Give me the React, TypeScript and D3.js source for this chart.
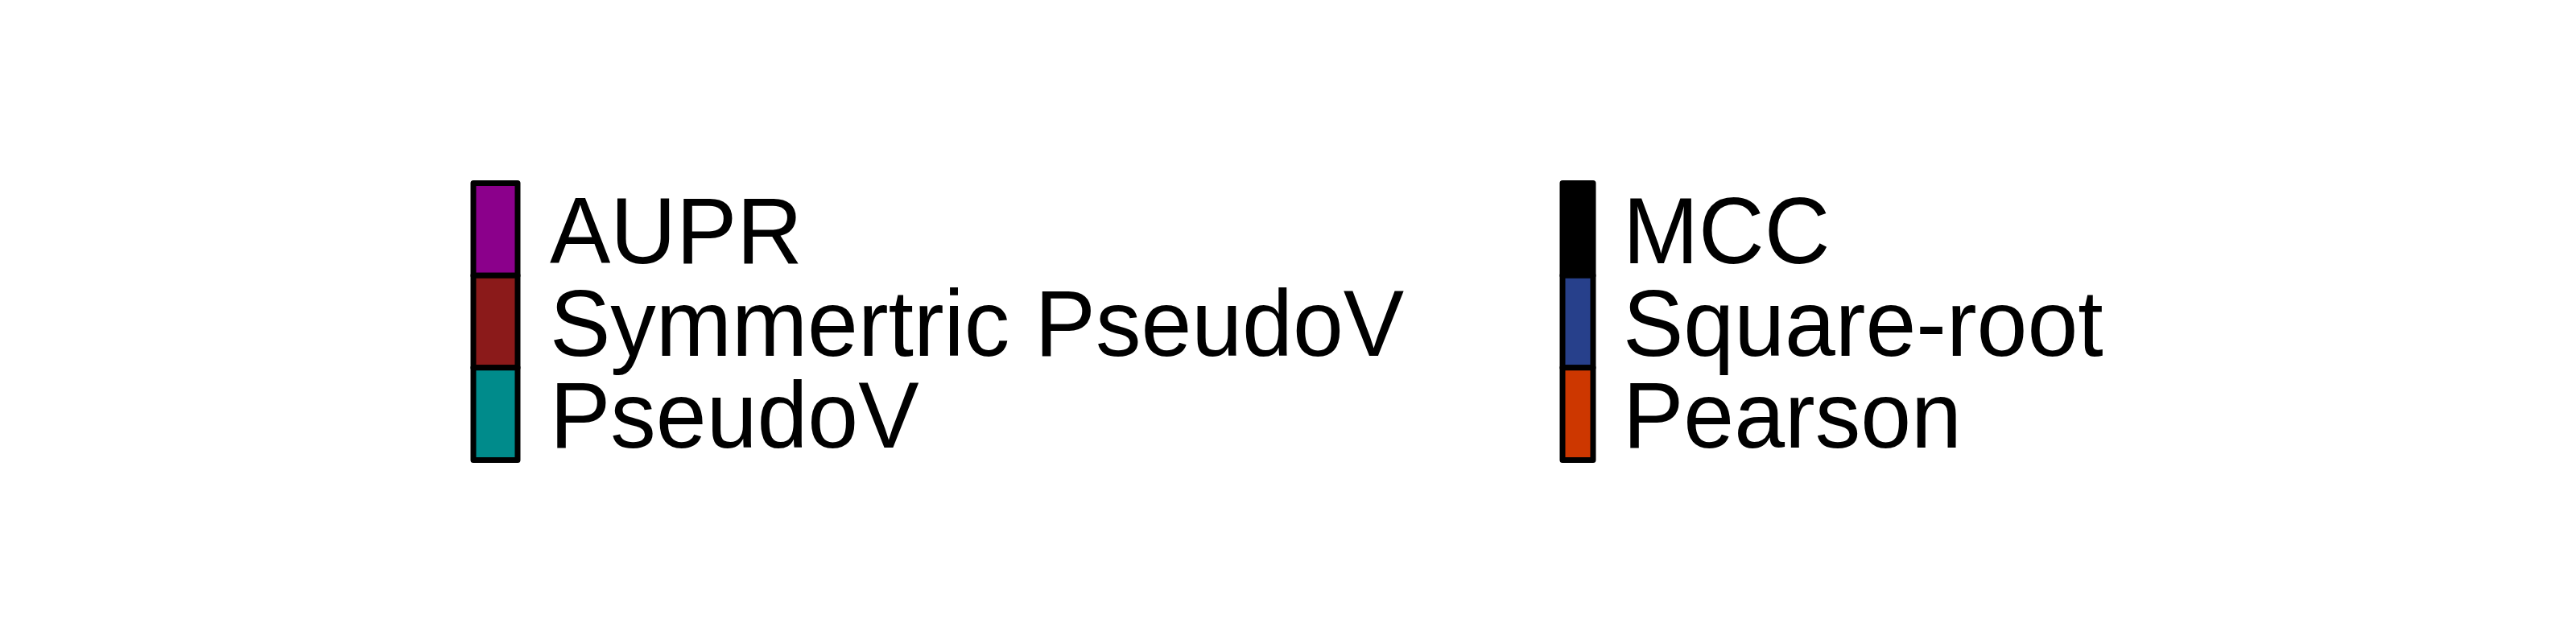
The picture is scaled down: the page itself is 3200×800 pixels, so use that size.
import React from "react";
import { scaleBand } from "d3";

const leftLabels = ["AUPR", "Symmertric PseudoV", "PseudoV"];
const leftColors = ["#8B008B", "#8B1A1A", "#008B8B"];
const rightLabels = ["MCC", "Square-root", "Pearson"];
const rightColors = ["#000000", "#27408B", "#CD3700"];

const W = 3200;
const H = 800;

function LegendBlock({
  labels,
  colors,
  x,
  keyWidth,
  textGap,
}: {
  labels: string[];
  colors: string[];
  x: number;
  keyWidth: number;
  textGap: number;
}) {
  // rows stacked top to bottom
  const y = scaleBand<string>().domain(labels).range([227.5, 571.5]);
  return (
    <g>
      {labels.map((l, i) => (
        <rect
          key={l}
          x={x}
          y={y(l)!}
          width={keyWidth}
          height={y.bandwidth()}
          fill={colors[i]}
          stroke="#000"
          strokeWidth={7}
          strokeLinejoin="round"
        />
      ))}
      {labels.map((l) => (
        <text
          key={l}
          transform={`translate(${x + keyWidth + textGap},${
            y(l)! + y.bandwidth() / 2 + 42
          }) scale(1,1.04)`}
          fontFamily="'Liberation Sans', Arial, sans-serif"
          fontSize={113}
          fill="#000"
        >
          {l}
        </text>
      ))}
    </g>
  );
}

export default function App() {
  return (
    <svg
      width={W}
      height={H}
      viewBox={`0 0 ${W} ${H}`}
      style={{ position: "absolute", left: 0, top: 0, background: "#fff" }}
    >
      <rect width={W} height={H} fill="#fff" />
      <LegendBlock labels={leftLabels} colors={leftColors} x={588} keyWidth={55} textGap={40} />
      <LegendBlock labels={rightLabels} colors={rightColors} x={1941} keyWidth={38} textGap={37} />
    </svg>
  );
}
